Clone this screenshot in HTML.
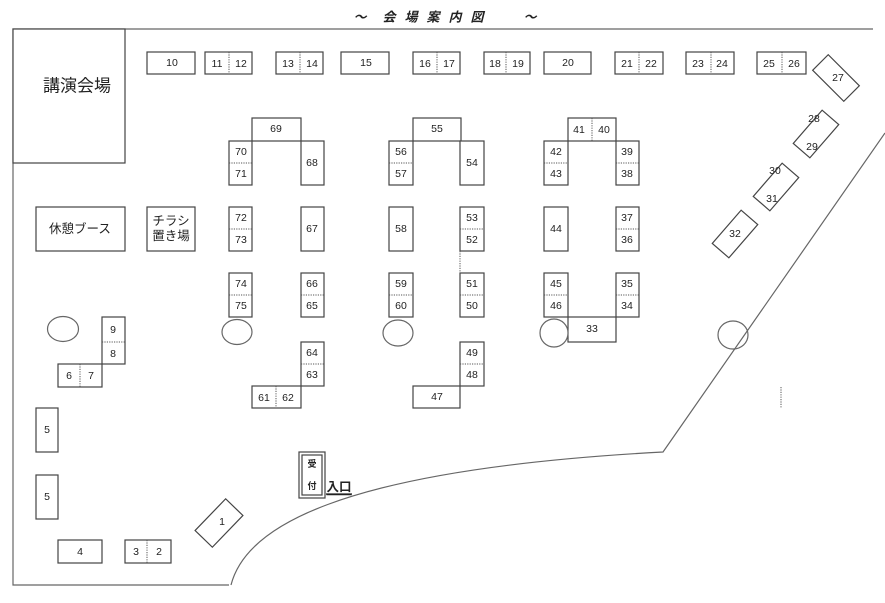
<!DOCTYPE html>
<html><head><meta charset="utf-8"><style>
body{margin:0;background:#fff}
svg{display:block}
text{font-family:"Liberation Sans","Noto Sans CJK JP",sans-serif;font-size:10.5px;fill:#222;text-anchor:middle;dominant-baseline:central}
.b{fill:#fff;stroke:#444;stroke-width:1.2}
.l{stroke:#666;stroke-width:1.2;fill:none}
.d{stroke:#555;stroke-width:1;stroke-dasharray:1.2 1.2}
</style></head><body>
<svg width="885" height="603" viewBox="0 0 885 603" xmlns="http://www.w3.org/2000/svg">
<!-- title -->
<g style="font-weight:bold;font-style:italic">
<text x="360" y="17" style="font-size:13px;font-weight:bold">～</text>
<text x="389" y="17" style="font-size:13px;font-weight:bold;font-style:italic">会</text>
<text x="411" y="17" style="font-size:13px;font-weight:bold;font-style:italic">場</text>
<text x="433" y="17" style="font-size:13px;font-weight:bold;font-style:italic">案</text>
<text x="455" y="17" style="font-size:13px;font-weight:bold;font-style:italic">内</text>
<text x="477" y="17" style="font-size:13px;font-weight:bold;font-style:italic">図</text>
<text x="530" y="17" style="font-size:13px;font-weight:bold">～</text>
</g>
<!-- frame -->
<path class="l" d="M873,29 L13,29 L13,585 L229,585"/>
<path class="l" d="M231,585 C245,530 330,470 663,452 L885,133"/>
<rect class="b" x="13" y="29" width="112" height="134"/>
<text x="77" y="86" style="font-size:17px">講演会場</text>
<!-- top row -->
<rect class="b" x="147" y="52" width="48" height="22"/><text x="172" y="63">10</text>
<rect class="b" x="205" y="52" width="47" height="22"/><line class="d" x1="229" y1="52" x2="229" y2="74"/><text x="217" y="64">11</text><text x="241" y="64">12</text>
<rect class="b" x="276" y="52" width="47" height="22"/><line class="d" x1="300" y1="52" x2="300" y2="74"/><text x="288" y="64">13</text><text x="312" y="64">14</text>
<rect class="b" x="341" y="52" width="48" height="22"/><text x="366" y="63">15</text>
<rect class="b" x="413" y="52" width="47" height="22"/><line class="d" x1="437" y1="52" x2="437" y2="74"/><text x="425" y="64">16</text><text x="449" y="64">17</text>
<rect class="b" x="484" y="52" width="46" height="22"/><line class="d" x1="506" y1="52" x2="506" y2="74"/><text x="495" y="64">18</text><text x="518" y="64">19</text>
<rect class="b" x="544" y="52" width="47" height="22"/><text x="568" y="63">20</text>
<rect class="b" x="615" y="52" width="48" height="22"/><line class="d" x1="639" y1="52" x2="639" y2="74"/><text x="627" y="64">21</text><text x="651" y="64">22</text>
<rect class="b" x="686" y="52" width="48" height="22"/><line class="d" x1="711" y1="52" x2="711" y2="74"/><text x="698" y="64">23</text><text x="722" y="64">24</text>
<rect class="b" x="757" y="52" width="49" height="22"/><line class="d" x1="782" y1="52" x2="782" y2="74"/><text x="769" y="64">25</text><text x="794" y="64">26</text>
<!-- rotated right -->
<g transform="translate(836,78) rotate(45)"><rect class="b" x="-22" y="-11" width="44" height="22"/></g><text x="838" y="78">27</text>
<g transform="translate(816,134) rotate(41)"><rect class="b" x="-11" y="-22" width="22" height="44"/></g><text x="814" y="119">28</text><text x="812" y="147">29</text>
<g transform="translate(776,187) rotate(41)"><rect class="b" x="-11" y="-22" width="22" height="44"/></g><text x="775" y="171">30</text><text x="772" y="199">31</text>
<g transform="translate(735,234) rotate(41)"><rect class="b" x="-11" y="-22" width="22" height="44"/></g><text x="735" y="234">32</text>
<!-- group 1 -->
<rect class="b" x="252" y="118" width="49" height="23"/><text x="276" y="129">69</text>
<rect class="b" x="229" y="141" width="23" height="44"/><line class="d" x1="229" y1="163" x2="252" y2="163"/><text x="241" y="152">70</text><text x="241" y="174">71</text>
<rect class="b" x="301" y="141" width="23" height="44"/><text x="312" y="163">68</text>
<!-- group 2 -->
<rect class="b" x="413" y="118" width="48" height="23"/><text x="437" y="129">55</text>
<rect class="b" x="389" y="141" width="24" height="44"/><line class="d" x1="389" y1="163" x2="413" y2="163"/><text x="401" y="152">56</text><text x="401" y="174">57</text>
<rect class="b" x="460" y="141" width="24" height="44"/><text x="472" y="163">54</text>
<!-- group 3 -->
<rect class="b" x="568" y="118" width="48" height="23"/><line class="d" x1="592" y1="118" x2="592" y2="141"/><text x="579" y="130">41</text><text x="604" y="130">40</text>
<rect class="b" x="544" y="141" width="24" height="44"/><line class="d" x1="544" y1="163" x2="568" y2="163"/><text x="556" y="152">42</text><text x="556" y="174">43</text>
<rect class="b" x="616" y="141" width="23" height="44"/><line class="d" x1="616" y1="163" x2="639" y2="163"/><text x="627" y="152">39</text><text x="627" y="174">38</text>
<!-- row 2 -->
<rect class="b" x="36" y="207" width="89" height="44"/><text x="80" y="229" style="font-size:12.5px">休憩ブース</text>
<rect class="b" x="147" y="207" width="48" height="44"/><text x="171" y="221" style="font-size:12.5px">チラシ</text><text x="171" y="236" style="font-size:12.5px">置き場</text>
<rect class="b" x="229" y="207" width="23" height="44"/><line class="d" x1="229" y1="229" x2="252" y2="229"/><text x="241" y="218">72</text><text x="241" y="240">73</text>
<rect class="b" x="301" y="207" width="23" height="44"/><text x="312" y="229">67</text>
<rect class="b" x="389" y="207" width="24" height="44"/><text x="401" y="229">58</text>
<rect class="b" x="460" y="207" width="24" height="44"/><line class="d" x1="460" y1="229" x2="484" y2="229"/><text x="472" y="218">53</text><text x="472" y="240">52</text>
<line class="d" x1="460" y1="251" x2="460" y2="273"/>
<rect class="b" x="544" y="207" width="24" height="44"/><text x="556" y="229">44</text>
<rect class="b" x="616" y="207" width="23" height="44"/><line class="d" x1="616" y1="229" x2="639" y2="229"/><text x="627" y="218">37</text><text x="627" y="240">36</text>
<!-- row 3 -->
<rect class="b" x="229" y="273" width="23" height="44"/><line class="d" x1="229" y1="295" x2="252" y2="295"/><text x="241" y="284">74</text><text x="241" y="306">75</text>
<rect class="b" x="301" y="273" width="23" height="44"/><line class="d" x1="301" y1="295" x2="324" y2="295"/><text x="312" y="284">66</text><text x="312" y="306">65</text>
<rect class="b" x="389" y="273" width="24" height="44"/><line class="d" x1="389" y1="295" x2="413" y2="295"/><text x="401" y="284">59</text><text x="401" y="306">60</text>
<rect class="b" x="460" y="273" width="24" height="44"/><line class="d" x1="460" y1="295" x2="484" y2="295"/><text x="472" y="284">51</text><text x="472" y="306">50</text>
<rect class="b" x="544" y="273" width="24" height="44"/><line class="d" x1="544" y1="295" x2="568" y2="295"/><text x="556" y="284">45</text><text x="556" y="306">46</text>
<rect class="b" x="616" y="273" width="23" height="44"/><line class="d" x1="616" y1="295" x2="639" y2="295"/><text x="627" y="284">35</text><text x="627" y="306">34</text>
<rect class="b" x="568" y="317" width="48" height="25"/><text x="592" y="329">33</text>
<!-- circles -->
<ellipse class="l" cx="63" cy="329" rx="15.5" ry="12.5"/>
<ellipse class="l" cx="237" cy="332" rx="15" ry="12.5"/>
<ellipse class="l" cx="398" cy="333" rx="15" ry="13"/>
<ellipse class="b" cx="554" cy="333" rx="14" ry="14" style="stroke:#666"/>
<ellipse class="l" cx="733" cy="335" rx="15" ry="14"/>
<!-- left cluster -->
<rect class="b" x="102" y="317" width="23" height="47"/><line class="d" x1="102" y1="342" x2="125" y2="342"/><text x="113" y="330">9</text><text x="113" y="354">8</text>
<rect class="b" x="58" y="364" width="44" height="23"/><line class="d" x1="80" y1="364" x2="80" y2="387"/><text x="69" y="376">6</text><text x="91" y="376">7</text>
<!-- 64/63, 61/62 -->
<rect class="b" x="301" y="342" width="23" height="44"/><line class="d" x1="301" y1="364" x2="324" y2="364"/><text x="312" y="353">64</text><text x="312" y="375">63</text>
<rect class="b" x="252" y="386" width="49" height="22"/><line class="d" x1="276" y1="386" x2="276" y2="408"/><text x="264" y="398">61</text><text x="288" y="398">62</text>
<rect class="b" x="460" y="342" width="24" height="44"/><line class="d" x1="460" y1="364" x2="484" y2="364"/><text x="472" y="353">49</text><text x="472" y="375">48</text>
<rect class="b" x="413" y="386" width="47" height="22"/><text x="437" y="397">47</text>
<line class="d" x1="781" y1="387" x2="781" y2="408"/>
<!-- bottom left -->
<rect class="b" x="36" y="408" width="22" height="44"/><text x="47" y="430">5</text>
<rect class="b" x="36" y="475" width="22" height="44"/><text x="47" y="497">5</text>
<rect class="b" x="58" y="540" width="44" height="23"/><text x="80" y="552">4</text>
<rect class="b" x="125" y="540" width="46" height="23"/><line class="d" x1="147" y1="540" x2="147" y2="563"/><text x="136" y="552">3</text><text x="159" y="552">2</text>
<g transform="translate(219,523) rotate(-46)"><rect class="b" x="-22" y="-12" width="44" height="24"/></g><text x="222" y="522">1</text>
<!-- reception -->
<rect class="b" x="299" y="452" width="26" height="46"/><rect class="b" x="302" y="455" width="20" height="40"/>
<text x="312" y="464" style="font-size:9px;font-weight:bold">受</text><text x="312" y="486" style="font-size:9px;font-weight:bold">付</text>
<text x="339" y="487" style="font-size:12.5px;font-weight:bold;text-decoration:underline">入口</text>
<line x1="326" y1="494" x2="352" y2="494" stroke="#222" stroke-width="1.3"/>
</svg>
</body></html>
